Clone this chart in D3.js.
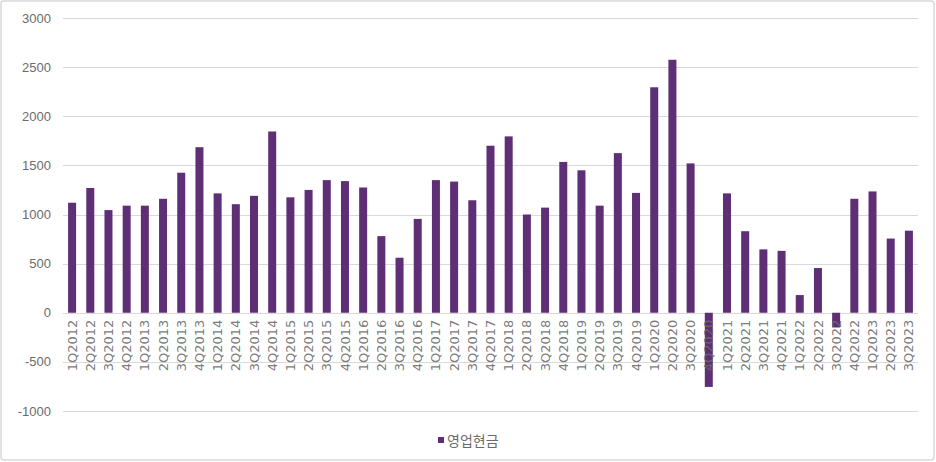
<html>
<head>
<meta charset="utf-8">
<script src="https://cdn.jsdelivr.net/npm/d3@7"></script>
<style>
  body { margin: 0; background: #fff; }
  text { font-family: "Liberation Sans", "Noto Sans CJK KR", sans-serif; }
</style>
</head>
<body>
<svg id="chart"></svg>
<script>
var years = ["2012","2013","2014","2015","2016","2017","2018","2019","2020","2021","2022","2023"];
var quarters = [];
years.forEach(function(y) {
  for (var q = 1; q <= 4; q++) quarters.push(q + "Q" + y);
});
quarters = quarters.slice(0, 47); // ends at 3Q2023

var cash = [1120, 1270, 1045, 1090, 1090, 1160, 1425, 1685,
            1215, 1105, 1190, 1845, 1175, 1250, 1350, 1340,
            1275, 780, 560, 955, 1350, 1335, 1145, 1700,
            1795, 1000, 1070, 1535, 1450, 1090, 1625, 1220,
            2295, 2575, 1520, -755, 1215, 830, 645, 630,
            180, 455, -150, 1160, 1235, 755, 835];

var yTicks = [-1000, -500, 0, 500, 1000, 1500, 2000, 2500, 3000];
var seriesName = "영업현금";

var width = 936, height = 462;
var plotLeft = 63, plotRight = 918, plotTop = 18, plotBottom = 411;
var barColor = "#5f2f76";
var gridColor = "#d9d9d9";
var textColor = "#6b6b6b";

var svg = d3.select("#chart").attr("width", width).attr("height", height);

svg.append("rect")
  .attr("x", 1).attr("y", 1)
  .attr("width", width - 3).attr("height", height - 3)
  .attr("rx", 3)
  .attr("fill", "#fff")
  .attr("stroke", gridColor)
  .attr("stroke-width", 1.5);

var x = d3.scaleBand().domain(quarters).range([plotLeft, plotRight]).paddingInner(0.56).paddingOuter(0.28);
var y = d3.scaleLinear().domain([-1000, 3000]).range([plotBottom, plotTop]);

// gridlines
svg.append("g").selectAll("line")
  .data(yTicks)
  .enter().append("line")
  .attr("x1", plotLeft).attr("x2", plotRight)
  .attr("y1", function(d) { return Math.round(y(d)) + 0.5; })
  .attr("y2", function(d) { return Math.round(y(d)) + 0.5; })
  .attr("stroke", gridColor)
  .attr("stroke-width", 1);

// y labels
svg.append("g").selectAll("text")
  .data(yTicks)
  .enter().append("text")
  .attr("x", 51)
  .attr("y", function(d) { return y(d); })
  .attr("dy", "0.35em")
  .attr("text-anchor", "end")
  .attr("font-size", 13)
  .attr("fill", textColor)
  .text(function(d) { return d; });

// bars
svg.append("g").selectAll("rect")
  .data(cash)
  .enter().append("rect")
  .attr("x", function(d, i) { return x(quarters[i]); })
  .attr("width", x.bandwidth())
  .attr("y", function(d) { return y(Math.max(0, d)); })
  .attr("height", function(d) { return Math.abs(y(d) - y(0)); })
  .attr("fill", barColor);

// x labels, rotated
svg.append("g").selectAll("text")
  .data(quarters)
  .enter().append("text")
  .attr("transform", function(d) {
    return "translate(" + (x(d) + x.bandwidth() / 2) + "," + (y(0) + 7) + ") rotate(-90)";
  })
  .attr("dy", "0.35em")
  .attr("text-anchor", "end")
  .attr("font-size", 13)
  .style("font-family", "'DejaVu Sans', sans-serif")
  .attr("fill", textColor)
  .attr("fill-opacity", 0.9)
  .text(function(d) { return d; });

// legend
var legend = svg.append("g").attr("transform", "translate(438,441)");
legend.append("rect")
  .attr("x", 0).attr("y", -4)
  .attr("width", 6).attr("height", 6)
  .attr("fill", barColor);
legend.append("text")
  .attr("x", 9).attr("y", 0)
  .attr("dy", "0.35em")
  .attr("font-size", 14)
  .attr("fill", textColor)
  .style("font-family", "'Noto Sans CJK KR', sans-serif")
  .text(seriesName);
</script>
</body>
</html>
